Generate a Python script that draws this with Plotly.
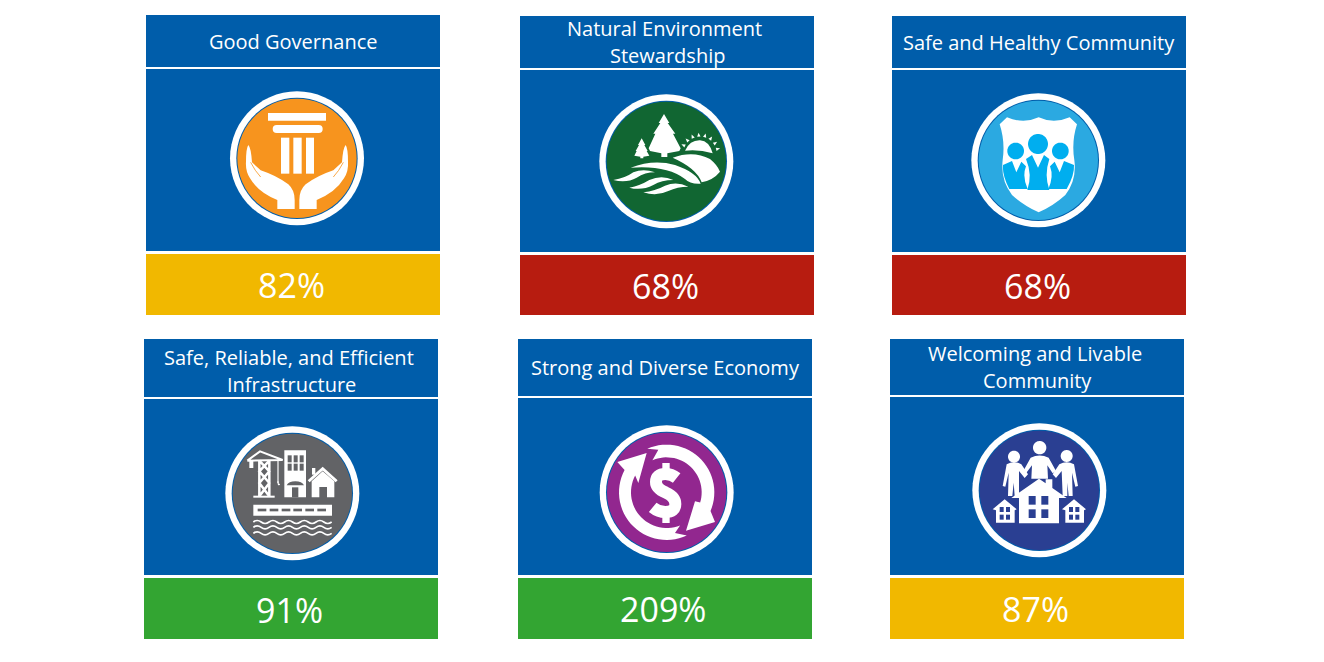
import re
import numpy as np
import plotly.graph_objects as go

# ---------- chart content ----------
categories = [
    ["Good Governance"],
    ["Natural Environment\u00a0", "Stewardship"],
    ["Safe and Healthy Community"],
    ["Safe, Reliable, and Efficient\u00a0", "Infrastructure"],
    ["Strong and Diverse Economy"],
    ["Welcoming and Livable\u00a0", "Community"],
]
percent_values = [82, 68, 68, 91, 209, 87]
status_colors = ["#F1B800", "#B71C10", "#B71C10", "#33A532", "#33A532", "#F1B800"]
icon_colors = ["#F7941E", "#116632", "#2BA9E1", "#626366", "#92278F", "#2A3F92"]

# ---------- layout of the tiles (x0, x1, header top, header bottom, body top, body bottom, status top, status bottom) ----------
TILES = [
    (146, 440, 15, 67, 69, 251, 254, 315),
    (520, 814, 16, 68, 70, 252, 255, 315),
    (892, 1186, 16, 68, 70, 252, 255, 315),
    (144, 438, 339, 397, 399, 575, 578, 639),
    (518, 812, 339, 396, 398, 575, 578, 639),
    (890, 1184, 339, 395, 397, 575, 578, 639),
]
TITLE_Y = [41.5, 41.5, 42.5, 370.5, 367, 366.5]
PERCENT_Y = [284.5, 286, 286, 609.5, 608.5, 608.5]
BLUE = "#005DAA"
# crop origin of each icon sketch (1 sketch unit = 1/3 px) and centre of its disc in sketch units
ICON_ORIGIN = [(220, 85), (590, 85), (962, 85), (216, 418), (590, 418), (964, 416)]
ICON_CENTER = [(231, 220), (229, 229), (229, 226), (229, 226), (230, 223), (226, 223)]

shapes = []
W = "#FFFFFF"


def rect(x0, y0, x1, y1, color):
    shapes.append(dict(type="rect", xref="x", yref="y", x0=x0, y0=y0, x1=x1, y1=y1,
                       fillcolor=color, line_width=0, layer="above"))


def tf(path, origin):
    """sketch units -> page px"""
    toks = re.findall(r"[MLCQZ]|-?\d+\.?\d*", path)
    out, i = [], 0
    for t in toks:
        if t in "MLCQZ":
            out.append(t)
        else:
            v = float(t) / 3 + origin[i % 2]
            out.append(f"{v:.2f}")
            i += 1
    return " ".join(out)


def fill(path, origin, color=W):
    shapes.append(dict(type="path", xref="x", yref="y", path=tf(path, origin),
                       fillcolor=color, line_width=0, layer="above"))


def stroke(path, origin, width, color=W):
    shapes.append(dict(type="path", xref="x", yref="y", path=tf(path, origin),
                       line=dict(color=color, width=width), layer="above"))


def box(x0, y0, x1, y1, origin, color=W):
    fill(f"M{x0} {y0} L{x1} {y0} L{x1} {y1} L{x0} {y1} Z", origin, color)


def disc(cx, cy, r, origin, color=W):
    a = np.radians(np.arange(0, 360, 6))
    pts = [f"{cx + r*np.cos(t):.1f} {cy + r*np.sin(t):.1f}" for t in a]
    fill("M" + " L".join(pts) + " Z", origin, color)


def arc(cx, cy, r, a0, a1, n=30):
    """clockwise angle from up, returned as 'x y' strings"""
    ts = np.radians(np.linspace(a0, a1, n))
    return [f"{cx + r*np.sin(t):.1f} {cy - r*np.cos(t):.1f}" for t in ts]


def wave(x0, x1, y, period, amp):
    xs = np.arange(x0, x1 + 0.1, period / 2)
    s = f"M{x0} {y}"
    for k, x in enumerate(xs[:-1]):
        s += f" Q{x + period/4:.1f} {y + (amp if k % 2 else -amp)} {x + period/2:.1f} {y}"
    return s


def icon_governance(o):
    box(144, 84, 318, 107, o)
    fill("M170 120 L296 120 Q308 120 308 132 Q308 144 296 144 L170 144 Q158 144 158 132 Q158 120 170 120 Z", o)
    for a, b in ((183, 208), (220, 245), (258, 282)):
        box(a, 158, b, 266, o)
    for sign in (1, -1):
        m = (lambda x: x) if sign == 1 else (lambda x: 462 - x)
        fill(f"M{m(85)} 180 Q{m(93)} 188 {m(96)} 232 L{m(122)} 256 Q{m(170)} 272 {m(205)} 298 "
             f"Q{m(224)} 315 {m(224)} 345 L{m(224)} 372 L{m(172)} 372 L{m(172)} 345 "
             f"Q{m(115)} 322 {m(90)} 280 Q{m(76)} 258 {m(78)} 230 Q{m(78)} 190 {m(85)} 180 Z", o)
        stroke(f"M{m(92)} 232 Q{m(105)} 258 {m(122)} 276", o, 0.8, icon_colors[0])


def icon_environment(o):
    # big tree
    fill("M222 87 L238 114 L233 114 L256 146 L249 146 L272 190 L268 198 L232 205 "
         "L232 216 L214 216 L214 205 L180 198 L176 190 L196 146 L190 146 L211 114 L206 114 Z", o)
    # small tree
    fill("M155 160 L166 180 L163 180 L173 198 L170 198 L178 212 L160 215 L160 220 L151 220 L151 215 "
         "L133 212 L140 198 L137 198 L147 180 L144 180 Z", o)
    # sun
    fill("M285 197 Q300 165 330 166 Q358 168 368 205 Q325 192 285 197 Z", o)
    for a in (-64, -44, -24, -4, 16, 36, 56, 76):
        t = np.radians(a)
        cx, cy = 330 + 55 * np.sin(t), 205 - 55 * np.cos(t)
        dx, dy = np.sin(t), -np.cos(t)
        fill(f"M{cx + 7*dx:.1f} {cy + 7*dy:.1f} L{cx - 5*dy - 5*dx:.1f} {cy + 5*dx - 5*dy:.1f} "
             f"L{cx + 5*dy - 5*dx:.1f} {cy - 5*dx - 5*dy:.1f} Z", o)
    # hills
    fill("M122 248 Q190 222 255 240 Q320 262 332 296 Q300 298 285 282 Q230 240 122 248 Z", o)
    fill("M248 218 Q310 196 360 222 Q382 240 390 260 Q370 285 335 292 Q320 250 248 218 Z", o)
    # waves
    fill("M70 285 Q105 280 130 262 Q160 250 195 262 Q165 262 140 278 Q110 295 70 285 Z", o)
    fill("M118 308 Q150 302 178 285 Q215 268 250 285 Q215 285 190 300 Q155 318 118 308 Z", o)
    fill("M160 322 Q195 318 225 302 Q260 288 295 305 Q262 305 235 318 Q200 335 160 322 Z", o)


def icon_community(o):
    fill("M113 118 L135 97 Q185 118 230 97 Q275 118 323 97 L345 118 "
         "Q328 170 337 225 Q345 285 310 330 Q275 362 230 382 Q185 362 150 330 Q115 285 122 225 Q130 170 113 118 Z", o)
    c = "#00AEEF"
    disc(161, 198, 25, o, c)
    disc(228, 177, 30, o, c)
    disc(295, 198, 25, o, c)
    fill("M123 240 L150 228 L163 262 L178 230 L192 244 Q180 275 197 312 L142 312 Q120 270 123 240 Z", o, c)
    fill("M336 240 L306 228 L293 262 L278 230 L264 244 Q276 275 259 312 L314 312 Q338 270 336 240 Z", o, c)
    fill("M210 210 L228 248 L246 210 L262 222 Q246 270 262 315 L196 315 Q212 270 192 222 Z", o, c)


def icon_infrastructure(o):
    # crane
    stroke("M94 128 L132 100 L200 126 L94 128", o, 2)
    stroke("M130 128 L130 235 M160 128 L160 235 M130 128 L160 160 L130 195 L160 235 M160 128 L130 160 L160 195 L130 235", o, 2.5)
    box(112, 233, 176, 239, o)
    box(100, 126, 112, 150, o)
    stroke("M186 128 L186 195", o, 1.2)
    stroke("M186 190 Q186 204 191 198", o, 1.2)
    # tower
    box(205, 97, 270, 238, o)
    g = icon_colors[3]
    for x in (215, 233, 251):
        for y in (112, 137):
            box(x, y, x + 12, y + 21, o, g)
    fill("M212 202 Q218 190 238 190 Q258 190 264 202 Z", o, g)
    box(228, 208, 247, 238, o, g)
    # house
    stroke("M278 190 L320 152 L362 190", o, 2.8)
    box(288, 150, 298, 170, o)
    fill("M287 190 L320 160 L355 190 L355 238 L333 238 L333 207 L310 207 L310 238 L287 238 Z", o)
    # road
    box(112, 260, 348, 293, o)
    for x in (125, 161, 197, 232, 268, 304):
        box(x, 272, x + 26, 280, o, g)
    # water
    for y in (312, 328, 346):
        stroke(wave(112, 348, y, 47, 9), o, 1.7)


def icon_economy(o):
    cx, cy = 230, 223
    a = arc(cx, cy, 143, -24, 113)
    b = arc(cx, cy, 105, 107, -24)
    fill("M" + " L".join(a) + " L375 312 L288 338 L315 250 L" + " L".join(b) + " L205 95 Z", o)
    a = arc(cx, cy, 143, 155, 298)
    b = arc(cx, cy, 107, 298, 158)
    fill("M" + " L".join(a) + " L82 132 L170 105 L145 195 L" + " L".join(b) + " L255 345 Z", o)
    # dollar sign
    stroke("M260 180 Q245 168 226 168 Q198 168 198 192 Q198 212 228 224 Q256 236 256 258 Q256 282 226 282 Q205 282 188 268",
           o, 12)
    box(217, 135, 239, 160, o)
    box(217, 290, 239, 315, o)


def icon_welcome(o):
    for x, y, r in ((150, 122, 18), (227, 95, 20), (308, 120, 18)):
        disc(x, y, r, o, W)
    # outer people
    fill("M128 145 Q150 132 172 145 L192 175 L182 186 L165 165 L165 240 L152 240 L149 200 L145 240 L132 240 L134 170 L124 212 L116 210 Z", o)
    fill("M330 145 Q308 132 286 145 L266 175 L276 186 L293 165 L296 240 L310 240 L310 200 L314 240 L326 240 L324 170 L334 212 L342 210 Z", o)
    # middle person
    fill("M200 125 Q227 112 254 125 L276 165 L266 172 L250 148 L252 188 L202 188 L204 148 L186 172 L178 165 Z", o)
    # main house
    fill("M225 188 L245 202 L245 190 L265 190 L265 216 L308 246 L285 246 L285 322 L165 322 L165 246 L142 246 Z", o)
    g = icon_colors[5]
    for x in (194, 232):
        for y in (240, 280):
            box(x, y, x + 21, y + 26, o, g)
    # small houses
    for dx, peak in ((0, 122), (208, 330)):
        fill(f"M{peak} 250 L{peak+36} 280 L{peak+30} 283 L{peak+30} 320 L{peak-26} 320 L{peak-26} 283 L{peak-36} 280 Z", o)
        for x in (peak - 15, peak + 4):
            for y in (273, 296):
                box(x, y, x + 12, y + 15, o, g)


ICONS = [icon_governance, icon_environment, icon_community, icon_infrastructure, icon_economy, icon_welcome]

annotations = []
for i, t in enumerate(TILES):
    x0, x1, h0, h1, b0, b1, s0, s1 = t
    rect(x0, h0, x1, h1, BLUE)
    rect(x0, b0, x1, b1, BLUE)
    rect(x0, s0, x1, s1, status_colors[i])
    o = ICON_ORIGIN[i]
    cx, cy = ICON_CENTER[i]
    disc(cx, cy, 201, o, W)
    disc(cx, cy, 182, o, BLUE)
    disc(cx, cy, 179, o, icon_colors[i])
    ICONS[i](o)
    xc = (x0 + x1) / 2
    lines = categories[i]
    for k, line in enumerate(lines):
        annotations.append(dict(x=xc, y=TITLE_Y[i] + (k - (len(lines) - 1) / 2) * 27, text=line, xref="x", yref="y",
                                showarrow=False, font=dict(family="Open Sans", size=20, color=W),
                                xanchor="center", yanchor="middle"))
    annotations.append(dict(x=xc - 2, y=PERCENT_Y[i], text=f"{percent_values[i]}%", xref="x", yref="y",
                            showarrow=False, font=dict(family="Open Sans", size=34, color=W),
                            xanchor="center", yanchor="middle"))

fig = go.Figure()
fig.update_layout(
    width=1324, height=662, margin=dict(l=0, r=0, t=0, b=0),
    paper_bgcolor=W, plot_bgcolor=W, showlegend=False,
    xaxis=dict(range=[0, 1324], visible=False, fixedrange=True),
    yaxis=dict(range=[662, 0], visible=False, fixedrange=True),
    shapes=shapes, annotations=annotations,
)
fig.write_html("out.html", config=dict(displayModeBar=False),
               post_script="document.body.style.margin='0';document.body.style.overflow='hidden';")
